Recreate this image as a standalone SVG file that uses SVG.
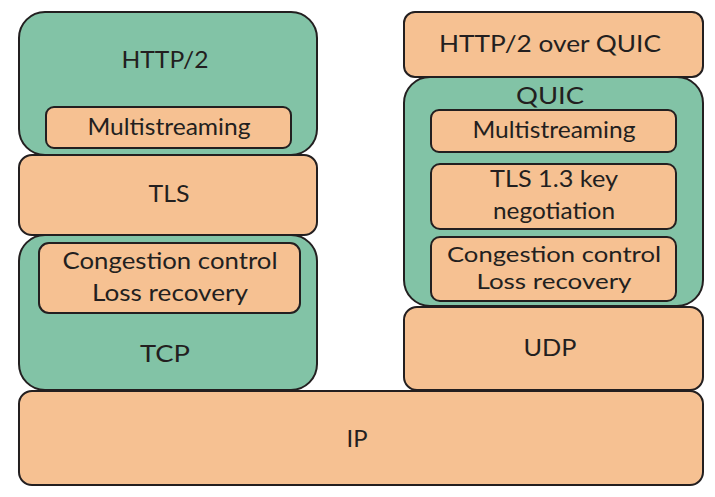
<svg xmlns="http://www.w3.org/2000/svg" width="715" height="497" viewBox="0 0 715 497">
<style>
.g{fill:#82C3A6;stroke:#231F20;stroke-width:2}
.o{fill:#F6C192;stroke:#231F20;stroke-width:2}
text{font-family:Lato,"Open Sans","DejaVu Sans",sans-serif;font-size:24px;fill:#231F20;text-anchor:middle}
.t2{font-size:22px}
</style>
<rect width="715" height="497" fill="#fff"/>
<g id="connectors"/>
<g id="ip"><rect class="o" x="19" y="391" width="684" height="94" rx="13"/><text x="357" y="447" textLength="21" lengthAdjust="spacingAndGlyphs">IP</text></g>
<g id="tcp"><rect class="g" x="19" y="235" width="298" height="155" rx="26"/><text x="165" y="362" textLength="50" lengthAdjust="spacingAndGlyphs">TCP</text></g>
<g id="tcp-cc"><rect class="o" x="39" y="243" width="261" height="70" rx="10"/><text x="170" y="269" textLength="215" lengthAdjust="spacingAndGlyphs">Congestion control</text><text x="170" y="301" textLength="156" lengthAdjust="spacingAndGlyphs">Loss recovery</text></g>
<g id="http2"><rect class="g" x="19" y="12" width="298" height="143" rx="26"/><text x="165" y="68" textLength="87" lengthAdjust="spacingAndGlyphs">HTTP/2</text></g>
<g id="http2-ms"><rect class="o" x="46" y="107" width="245" height="41" rx="8"/><text x="169" y="135" textLength="163" lengthAdjust="spacingAndGlyphs">Multistreaming</text></g>
<g id="tls"><rect class="o" x="19" y="155" width="298" height="80" rx="13"/><text x="169" y="202" textLength="41" lengthAdjust="spacingAndGlyphs">TLS</text></g>
<g id="udp"><rect class="o" x="404" y="307" width="299" height="83" rx="13"/><text x="550" y="356" textLength="53" lengthAdjust="spacingAndGlyphs">UDP</text></g>
<g id="quic"><rect class="g" x="404" y="77" width="299" height="229" rx="26"/><text x="550" y="104" textLength="68" lengthAdjust="spacingAndGlyphs">QUIC</text></g>
<g id="http2quic"><rect class="o" x="404" y="12" width="299" height="65" rx="11"/><text x="550" y="52" textLength="222" lengthAdjust="spacingAndGlyphs">HTTP/2 over QUIC</text></g>
<g id="quic-ms"><rect class="o" x="431" y="110" width="245" height="42" rx="8"/><text x="554" y="138" textLength="163" lengthAdjust="spacingAndGlyphs">Multistreaming</text></g>
<g id="quic-tls"><rect class="o" x="431" y="164" width="245" height="65" rx="9"/><text x="554" y="187" textLength="128" lengthAdjust="spacingAndGlyphs">TLS 1.3 key</text><text x="554" y="219" textLength="122" lengthAdjust="spacingAndGlyphs">negotiation</text></g>
<g id="quic-cc"><rect class="o" x="431" y="237" width="245" height="64" rx="9"/><text class="t2" x="554" y="262" textLength="214" lengthAdjust="spacingAndGlyphs">Congestion control</text><text class="t2" x="554" y="289" textLength="155" lengthAdjust="spacingAndGlyphs">Loss recovery</text></g>
</svg>
